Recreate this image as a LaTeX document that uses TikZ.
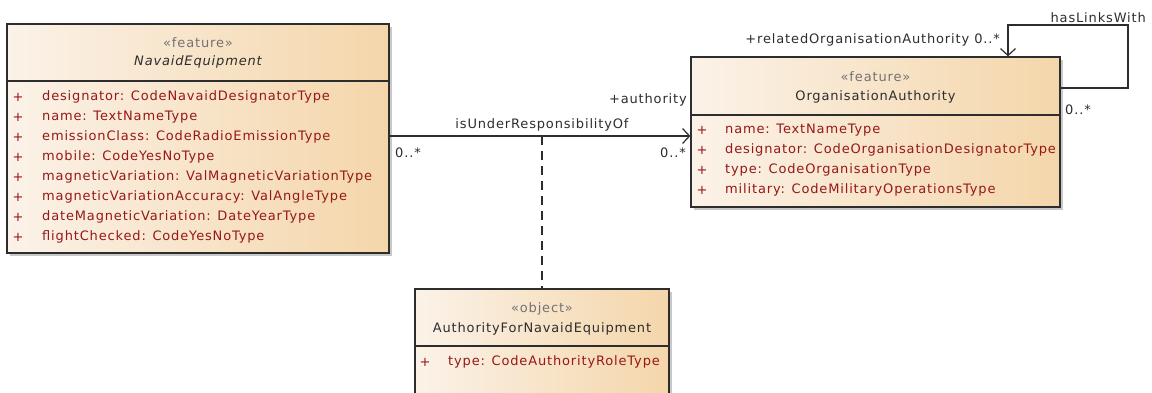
\documentclass[tikz,border=0pt]{standalone}
\usepackage{fontspec}
\setmainfont[LetterSpace=6.5]{DejaVu Sans}
\usetikzlibrary{arrows.meta, positioning, calc, shadows}
\usepackage{xcolor}

\definecolor{umlleft}{RGB}{251,242,232}
\definecolor{umlright}{RGB}{244,214,170}
\definecolor{umlline}{RGB}{45,45,45}
\definecolor{attrred}{RGB}{150,24,24}
\definecolor{stereogray}{RGB}{115,115,115}
\definecolor{shadowgray}{RGB}{200,200,200}

\tikzset{
  classbox/.style={draw=umlline, line width=1.3pt, left color=umlleft, right color=umlright,
    inner sep=0pt, drop shadow={shadow xshift=3pt, shadow yshift=-3pt, fill=shadowgray, opacity=1}},
  txt/.style={inner sep=0pt, font=\fontsize{13}{15}\selectfont},
  stereo/.style={txt, text=stereogray},
  cname/.style={txt, text=umlline},
  plus/.style={txt, text=attrred},
  attr/.style={txt, text=attrred, anchor=west},
  lbl/.style={txt, text=umlline},
  conn/.style={draw=umlline, line width=1.2pt}
}

\begin{document}
\begin{tikzpicture}[x=1pt, y=-1pt, >={Straight Barb[length=7pt, width=15pt]}]
		\useasboundingbox (0,0) rectangle (1152,392);
		\clip (0,0) rectangle (1152,392);

		% class boxes
		\node[classbox, minimum width=382pt, minimum height=229pt] (navaid) at (198,138.5) {};
		\node[classbox, minimum width=369pt, minimum height=150pt] (org) at (875.5,132) {};
		\node[classbox, minimum width=254pt, minimum height=151pt] (afne) at (542,364.5) {};

		\draw[umlline, line width=1.3pt] (navaid.west |- 0,81) -- (navaid.east |- 0,81);
		\draw[umlline, line width=1.3pt] (org.west |- 0,115) -- (org.east |- 0,115);
		\draw[umlline, line width=1.3pt] (afne.west |- 0,346) -- (afne.east |- 0,346);

		% headers
		\draw (198,43) node[stereo] (navst) {«feature»}
		(198,62) node[cname, font=\fontsize{13}{15}\selectfont\itshape] (navnm) {NavaidEquipment}
		(875.5,77) node[stereo] (orgst) {«feature»}
		(875.5,97) node[cname] (orgnm) {OrganisationAuthority}
		(542,309) node[stereo] (afst) {«object»}
		(542,329) node[cname] (afnm) {AuthorityForNavaidEquipment};

		% attributes
		\foreach \t [count=\k] in {designator: CodeNavaidDesignatorType, name: TextNameType,
			emissionClass: CodeRadioEmissionType, mobile: CodeYesNoType,
			magneticVariation: ValMagneticVariationType, magneticVariationAccuracy: ValAngleType,
			dateMagneticVariation: DateYearType, flightChecked: CodeYesNoType}
		{
			\node[plus] (navp\k) at (18,77+20*\k) {+};
			\node[attr] (nava\k) at (42,77+20*\k) {\t};
		}
		\foreach \t [count=\k] in {name: TextNameType, designator: CodeOrganisationDesignatorType,
			type: CodeOrganisationType, military: CodeMilitaryOperationsType}
		{
			\node[plus] (orgp\k) at (702,110+20*\k) {+};
			\node[attr] (orga\k) at (725,110+20*\k) {\t};
		}
		\node[plus] (afp1) at (425,362) {+};
		\node[attr] (afa1) at (448,362) {type: CodeAuthorityRoleType};

		% connectors
		\coordinate (assoc) at (542,136);
		\coordinate (loopout) at (1128,88);
		\coordinate (loopin) at (1008,25);
		\draw[conn, ->] (navaid.east |- assoc) -- (org.west |- assoc);
		\draw[conn, dashed, dash pattern=on 9pt off 6pt] (assoc) -- (afne.north);
		\draw[conn, ->] (org.east |- loopout) -- (loopout) |- (loopin) -- (org.north -| loopin);

		% labels
		\draw (542,125) node[lbl] (assocnm) {isUnderResponsibilityOf}
		(395,153) node[lbl, anchor=west] (navmul) {0..*}
		(686,153) node[lbl, anchor=east] (orgmul) {0..*}
		(687,100) node[lbl, anchor=east] (authrole) {+authority}
		(1000,40) node[lbl, anchor=east] (relrole) {+relatedOrganisationAuthority 0..*}
		(1146,18) node[lbl, anchor=east] (loopnm) {hasLinksWith}
		(1065,110) node[lbl, anchor=west] (loopmul) {0..*};
	\end{tikzpicture}
\end{document}
